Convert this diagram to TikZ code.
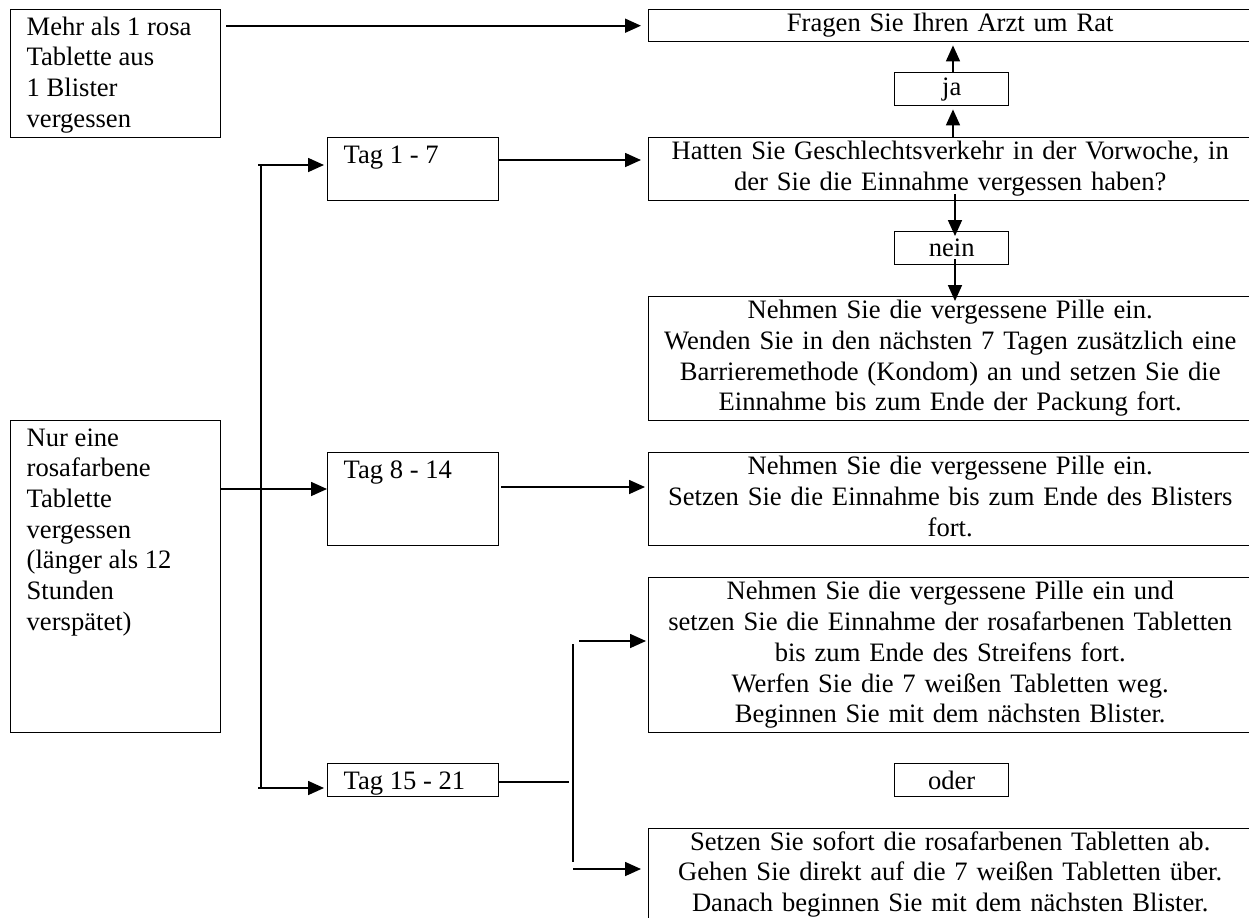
\documentclass[tikz,border=0pt]{standalone}
\usepackage{fontspec}
\setmainfont{Liberation Serif}
\usetikzlibrary{arrows.meta}
\newcommand{\boxtext}[3]{\parbox[t][#1][t]{#2}{\strut #3}}
\tikzset{sidebox/.style={
    % The shape:
    rectangle,
    anchor=north west,
    % The border:
    line width=0.7pt,
    draw=black,
    % Font
    inner xsep=8pt,
    inner ysep=2pt,
    font=\fontsize{13.3}{15.35}\selectfont
    },
    textbox/.style={
    rectangle,
    anchor=north west,
    text width=301.5pt,
    align=center,
    inner sep=0pt,
    line width=0.7pt,
    draw=black,
    font=\fontsize{13.3}{15.35}\selectfont,
    execute at begin node=\strut,
    execute at end node=\strut,
    },
    answer/.style={
    rectangle,
    anchor=north west,
    minimum width=57pt,
    minimum height=16.5pt,
    inner sep=0pt,
    line width=0.7pt,
    draw=black,
    font=\fontsize{13.3}{15.35}\selectfont,
    },
    arr/.style={line width=0.85pt, -{Triangle[length=8pt,width=7pt]}},
    link/.style={line width=0.85pt},
}

\begin{document}
\begin{tikzpicture}[x=0.5pt, y=-0.5pt]
    \useasboundingbox (0,0) rectangle (1249,917);

    \node (mehr)    [sidebox] at (10,9)    {\boxtext{60pt}{89pt}{Mehr als 1 rosa\\Tablette aus\\1 Blister\\vergessen}};
    \node (nur)     [sidebox] at (10,420)  {\boxtext{152pt}{89pt}{Nur eine\\rosafarbene\\Tablette\\vergessen\\(länger als 12\\Stunden\\verspätet)}};
    \node (tag17)   [sidebox] at (327,137) {\boxtext{27.5pt}{69.5pt}{Tag 1 - 7}};
    \node (tag814)  [sidebox] at (327,452) {\boxtext{42.5pt}{69.5pt}{Tag 8 - 14}};
    \node (tag1521) [sidebox] at (327,763) {\boxtext{12.5pt}{69.5pt}{Tag 15 - 21}};

    \node (fragen)  [textbox,minimum height=16pt]   at (648,9)   {Fragen Sie Ihren Arzt um Rat};
    \node (ja)      [answer]                        at (894,72)  {ja};
    \node (hatten)  [textbox,minimum height=31.5pt] at (648,137) {Hatten Sie Geschlechtsverkehr in der Vorwoche, in\\der Sie die Einnahme vergessen haben?};
    \node (nein)    [answer]                        at (894,231) {nein};
    \node (nehmen1) [textbox,minimum height=62pt]   at (648,296) {Nehmen Sie die vergessene Pille ein.\\Wenden Sie in den nächsten 7 Tagen zusätzlich eine\\Barrieremethode (Kondom) an und setzen Sie die\\Einnahme bis zum Ende der Packung fort.};
    \node (nehmen2) [textbox,minimum height=46.5pt] at (648,452) {Nehmen Sie die vergessene Pille ein.\\Setzen Sie die Einnahme bis zum Ende des Blisters\\fort.};
    \node (nehmen3) [textbox,minimum height=77.5pt] at (648,577) {Nehmen Sie die vergessene Pille ein und\\setzen Sie die Einnahme der rosafarbenen Tabletten\\bis zum Ende des Streifens fort.\\Werfen Sie die 7 weißen Tabletten weg.\\Beginnen Sie mit dem nächsten Blister.};
    \node (oder)    [answer]                        at (894,763) {oder};
    \node (absetzen)[textbox,minimum height=46pt]   at (648,828) {Setzen Sie sofort die rosafarbenen Tabletten ab.\\Gehen Sie direkt auf die 7 weißen Tabletten über.\\Danach beginnen Sie mit dem nächsten Blister.};

    \coordinate (yesx)    at (953,0);
    \coordinate (nox)     at (955,0);
    \coordinate (t17out)  at (498,160);
    \coordinate (bustop)  at (261,165);
    \coordinate (busbot)  at (261,788);
    \coordinate (nurout)  at (220,489);
    \coordinate (t814out) at (501,487);
    \coordinate (forkmid) at (569,782);
    \coordinate (forktop) at (573,644);
    \coordinate (forkbot) at (573,862);
    \coordinate (upin)    at (579,641);
    \coordinate (lowin)   at (573,869);

    \draw[arr,shorten <=2.5pt,shorten >=3.5pt] (mehr.east |- fragen.west) -- (fragen.west);
    \draw[arr,shorten >=1.5pt] (hatten.north -| yesx) -- (ja.south -| yesx);
    \draw[arr,shorten >=1.5pt] (ja.north -| yesx) -- (fragen.south -| yesx);
    \draw[arr,shorten <=-3.5pt,shorten >=-2.5pt] (hatten.south -| nox) -- (nein.north -| nox);
    \draw[arr,shorten <=-3pt,shorten >=-2.5pt] (nein.south -| nox) -- (nehmen1.north -| nox);
    \draw[arr,shorten >=3.5pt] (t17out) -- (t17out -| hatten.west);

    \draw[link] (bustop) -- (busbot);
    \draw[arr,shorten <=-1.5pt,shorten >=1.5pt] (bustop) -- (bustop -| tag17.west);
    \draw[arr,shorten <=-1.5pt,shorten >=1.5pt] (busbot) -- (busbot -| tag1521.west);
    \draw[arr] (nurout) -- (nurout -| tag814.west);
    \draw[arr,shorten >=1.5pt] (t814out) -- (t814out -| nehmen2.west);

    \draw[link] (forkmid -| tag1521.east) -- (forkmid);
    \draw[link] (forktop) -- (forkbot);
    \draw[arr,shorten >=1pt] (upin) -- (upin -| nehmen3.west);
    \draw[arr,shorten >=3.5pt] (lowin) -- (lowin -| absetzen.west);
\end{tikzpicture}
\end{document}
